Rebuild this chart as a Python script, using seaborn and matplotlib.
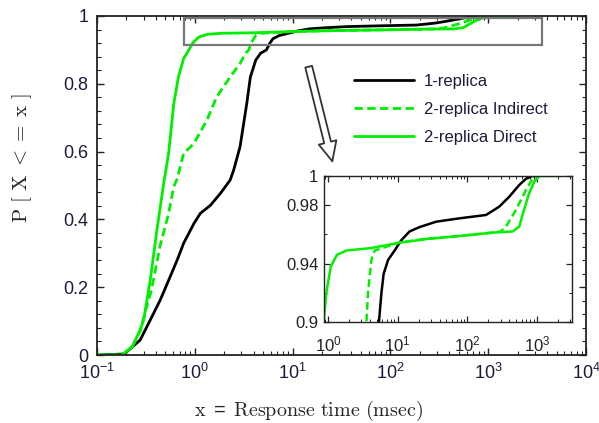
import numpy as np
import pandas as pd
import matplotlib
matplotlib.use("Agg")
import matplotlib.pyplot as plt
from matplotlib.patches import Rectangle
from matplotlib.ticker import LogLocator, NullFormatter, FixedLocator, AutoMinorLocator, FuncFormatter
import seaborn as sns

# Empirical CDFs of response time (msec)
one_x = [0.1, 0.19, 0.276, 0.35, 0.443, 0.56, 0.66, 0.77, 0.98, 1.14, 1.45, 1.83, 2.3, 2.5,
         2.9, 3.4, 3.7, 4.2, 4.7, 5.4, 5.85, 6.3, 7.3, 9.06, 11.3, 14.8, 20.6, 35.7, 76.9, 185,
         286, 398, 553, 689, 857, 1000]
one_p = [0.0, 0.003, 0.044, 0.103, 0.162, 0.231, 0.28, 0.33, 0.388, 0.418, 0.442, 0.477, 0.516,
         0.546, 0.614, 0.742, 0.82, 0.87, 0.89, 0.900, 0.9197, 0.933, 0.9425, 0.949, 0.956,
         0.962, 0.965, 0.9687, 0.971, 0.9733, 0.979, 0.9858, 0.9938, 0.998, 1.0, 1.0]

ind_x = [0.1, 0.18, 0.23, 0.276, 0.32, 0.36, 0.44, 0.54, 0.61, 0.66, 0.77, 0.98, 1.33, 1.68,
         2.3, 2.9, 3.3, 3.57, 3.76, 4.2, 4.7, 10.7, 25.7, 76.9, 228, 300, 357, 496, 689, 857,
         1000]
ind_p = [0.0, 0.0, 0.025, 0.07, 0.14, 0.19, 0.32, 0.418, 0.497, 0.52, 0.595, 0.624, 0.693,
         0.762, 0.82, 0.86, 0.89, 0.90, 0.92, 0.9425, 0.949, 0.9545, 0.957, 0.959, 0.9612,
         0.962, 0.9653, 0.9767, 0.9904, 0.998, 1.0]

dir_x = [0.1, 0.18, 0.23, 0.276, 0.30, 0.35, 0.41, 0.48, 0.54, 0.61, 0.68, 0.77, 0.87, 0.95,
         1.1, 1.35, 1.85, 3.98, 10.7, 25.7, 76.9, 228, 445, 553, 648, 765, 907, 1070, 2150]
dir_p = [0.0, 0.0, 0.025, 0.074, 0.103, 0.22, 0.369, 0.505, 0.595, 0.742, 0.82, 0.875, 0.90,
         0.92, 0.938, 0.946, 0.949, 0.9505, 0.9543, 0.9568, 0.9589, 0.9612, 0.962, 0.9653,
         0.9767, 0.988, 0.996, 1.0, 1.0]

series_names = ["1-replica", "2-replica Indirect", "2-replica Direct"]

df = pd.concat([
    pd.DataFrame({"x": one_x, "p": one_p, "series": series_names[0]}),
    pd.DataFrame({"x": ind_x, "p": ind_p, "series": series_names[1]}),
    pd.DataFrame({"x": dir_x, "p": dir_p, "series": series_names[2]}),
], ignore_index=True)

sns.set_style("ticks")
plt.rcParams["font.family"] = ["Liberation Sans", "DejaVu Sans"]
plt.rcParams["mathtext.default"] = "regular"

green = "#00ee00"
palette = {series_names[0]: "black", series_names[1]: green, series_names[2]: green}
dashes = {series_names[0]: "", series_names[1]: (3, 1.6), series_names[2]: ""}
txt_color = "#1c1c3a"

W, H = 599, 423
fig = plt.figure(figsize=(W / 100, H / 100), dpi=100)
ax = fig.add_axes([97 / W, 1 - 355 / H, (586 - 97) / W, (355 - 16) / H])


def draw(axis, lw):
    sns.lineplot(data=df, x="x", y="p", hue="series", style="series", palette=palette,
                 dashes=dashes, sort=False, estimator=None, linewidth=lw, ax=axis,
                 legend=False)


def pow10(v, pos):
    return r"$10^{%d}$" % int(round(np.log10(v)))


draw(ax, 2.0)
ax.set_xscale("log")
ax.set_xlim(0.1, 1e4)
ax.set_ylim(0, 1)
ax.xaxis.set_major_locator(LogLocator(base=10, numticks=10))
ax.xaxis.set_major_formatter(FuncFormatter(pow10))
ax.xaxis.set_minor_locator(LogLocator(base=10, subs=np.arange(2, 10), numticks=20))
ax.xaxis.set_minor_formatter(NullFormatter())
ax.set_yticks([0, 0.2, 0.4, 0.6, 0.8, 1.0])
ax.set_yticklabels(["0", "0.2", "0.4", "0.6", "0.8", "1"])
ax.yaxis.set_minor_locator(AutoMinorLocator(5))
ax.tick_params(which="both", direction="in", top=True, right=True, colors="#222222",
               labelcolor=txt_color, labelsize=13)
ax.tick_params(which="major", length=5, width=1.0, pad=6)
ax.tick_params(which="minor", length=3, width=0.8)
for s in ax.spines.values():
    s.set_linewidth(1.3)
    s.set_color("#222222")

ax.set_xlabel(r"$\mathrm{x}\;=\;\mathrm{Response\ time\ (msec)}$", fontsize=14.5,
              math_fontfamily="cm")
ax.set_ylabel(r"$\mathrm{P\ [\ X\ <=\ x\ ]}$", fontsize=15, math_fontfamily="cm")
ax.xaxis.set_label_coords((309 - 97) / (586 - 97), -(399 - 355) / (355 - 16))
ax.yaxis.set_label_coords(-(97 - 34) / (586 - 97), (355 - 158) / (355 - 16))

# Zoom-region box
ax.add_patch(Rectangle((0.78, 0.914), 3550 - 0.78, 0.995 - 0.914, fill=False,
                       edgecolor="#777777", linewidth=1.6, zorder=5))

# Legend
handles = [plt.Line2D([], [], color="black", lw=2.0),
           plt.Line2D([], [], color=green, lw=2.0, ls=(0, (3, 1.6))),
           plt.Line2D([], [], color=green, lw=2.0)]
leg = ax.legend(handles, series_names, loc="upper left",
                bbox_to_anchor=(354 / W, 1 - 74 / H), bbox_transform=fig.transFigure,
                frameon=False, fontsize=12, handlelength=3.6, handletextpad=0.6,
                labelspacing=0.77, borderpad=0, borderaxespad=0)
for t in leg.get_texts():
    t.set_color(txt_color)

# Arrow pointing to the inset
ax.annotate("", xy=(333 / W, 1 - 164 / H), xytext=(308 / W, 1 - 64 / H),
            xycoords="figure fraction", textcoords="figure fraction",
            arrowprops=dict(arrowstyle="simple,head_length=1.4,head_width=1.3,tail_width=0.5",
                            fc="white", ec="#333333", lw=1.3))

# Inset
ins = fig.add_axes([324 / W, 1 - 322 / H, (572 - 324) / W, (322 - 176) / H])
draw(ins, 1.8)
ins.set_xscale("log")
ins.set_xlim(0.88, 3160)
ins.set_ylim(0.9, 1.0)
ins.set_xlabel("")
ins.set_ylabel("")
ins.xaxis.set_major_locator(FixedLocator([1, 10, 100, 1000]))
ins.xaxis.set_major_formatter(FuncFormatter(pow10))
ins.xaxis.set_minor_locator(LogLocator(base=10, subs=np.arange(2, 10), numticks=20))
ins.xaxis.set_minor_formatter(NullFormatter())
ins.set_yticks([0.9, 0.94, 0.98, 1.0])
ins.set_yticklabels(["0.9", "0.94", "0.98", "1"])
ins.yaxis.set_minor_locator(FixedLocator([0.92, 0.96]))
ins.tick_params(which="both", direction="in", top=True, right=True, colors="#222222",
                labelcolor="#222222", labelsize=12)
ins.tick_params(axis="x", which="major", length=4, width=0.9, pad=9)
ins.tick_params(axis="y", which="major", length=4, width=0.9, pad=4)
ins.tick_params(which="minor", length=2, width=0.7)
for s in ins.spines.values():
    s.set_linewidth(1.0)
    s.set_color("#222222")

fig.savefig("out.png", dpi=100)
